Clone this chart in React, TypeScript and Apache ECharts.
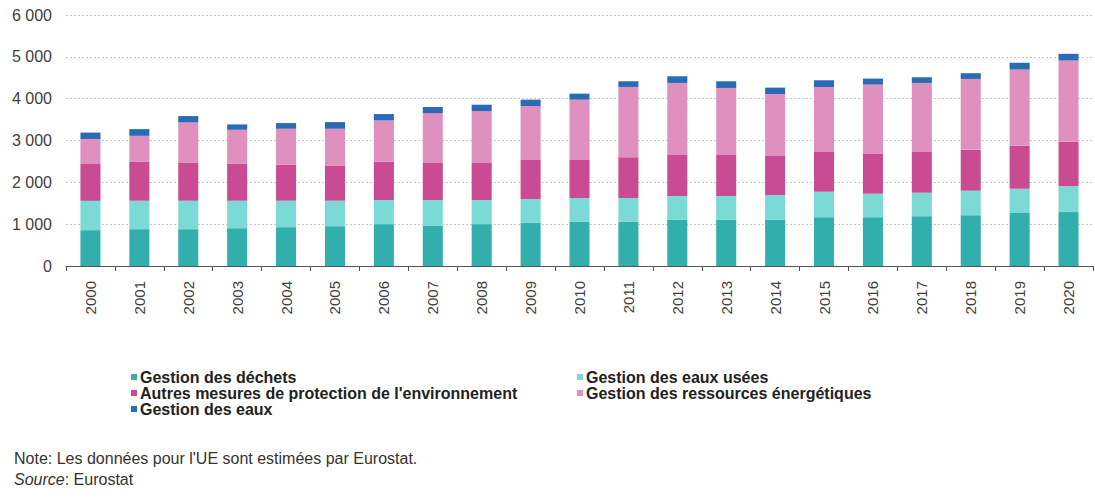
import React, { useEffect, useRef } from "react";
import * as echarts from "echarts";

const years = ["2000","2001","2002","2003","2004","2005","2006","2007","2008","2009","2010","2011","2012","2013","2014","2015","2016","2017","2018","2019","2020"];
const dechets = [857, 880, 880, 904, 928, 952, 1000, 968, 1000, 1032, 1056, 1056, 1104, 1104, 1104, 1168, 1168, 1192, 1216, 1264, 1288];
const eauxUsees = [700, 680, 680, 656, 632, 608, 576, 608, 576, 568, 568, 568, 568, 568, 592, 608, 560, 560, 584, 584, 616];
const autres = [896, 928, 904, 880, 864, 832, 912, 888, 888, 936, 912, 976, 984, 984, 936, 952, 952, 976, 976, 1024, 1064];
const ressources = [584, 624, 968, 816, 856, 888, 992, 1192, 1240, 1288, 1440, 1680, 1720, 1600, 1480, 1552, 1656, 1648, 1696, 1824, 1944];
const eaux = [152, 160, 152, 128, 136, 160, 152, 144, 152, 152, 144, 136, 160, 160, 152, 160, 144, 136, 136, 160, 160];
const yTicks = [0, 1000, 2000, 3000, 4000, 5000, 6000];

const names = [
  "Gestion des déchets",
  "Gestion des eaux usées",
  "Autres mesures de protection de l'environnement",
  "Gestion des ressources énergétiques",
  "Gestion des eaux",
];
const colors = ["#32AFAC", "#7BDAD6", "#C84B94", "#DF90BE", "#2A6BB5"];
const values = [dechets, eauxUsees, autres, ressources, eaux];

const FONT = "'Liberation Sans', Arial, sans-serif";

export default function App() {
  const ref = useRef<HTMLDivElement>(null);
  useEffect(() => {
    const chart = echarts.init(ref.current!, null, { renderer: "svg" });
    const legendText = { fontFamily: FONT, fontSize: 16, lineHeight: 16, fontWeight: "bold", color: "#222", padding: [0, 0, 0, -2] };
    chart.setOption({
      animation: false,
      backgroundColor: "#fff",
      grid: { left: 66, right: 2, top: 15, bottom: 235, containLabel: false },
      xAxis: {
        type: "category",
        data: years,
        axisLine: { lineStyle: { color: "#555", width: 1 } },
        axisTick: { show: true, length: 5, lineStyle: { color: "#555" } },
        axisLabel: { rotate: 90, margin: 15, fontFamily: FONT, fontSize: 15, color: "#404040" },
      },
      yAxis: {
        type: "value",
        min: 0,
        max: 6000,
        interval: 1000,
        axisLine: { show: false },
        axisTick: { show: false },
        axisLabel: {
          fontFamily: FONT,
          fontSize: 16,
          color: "#404040",
          margin: 14,
          formatter: (v: number) => (yTicks.includes(v) ? (v >= 1000 ? String(v).replace(/(\d)(\d{3})$/, "$1 $2") : String(v)) : ""),
        },
        splitLine: { lineStyle: { color: "#c8c8c8", type: [2, 2], width: 1 } },
      },
      legend: [
        {
          orient: "vertical",
          left: 131,
          top: 369,
          padding: 0,
          itemWidth: 6,
          itemHeight: 6,
          itemGap: 0,
          icon: "rect",
          data: [names[0], names[2], names[4]],
          textStyle: legendText,
        },
        {
          orient: "vertical",
          left: 577,
          top: 369,
          padding: 0,
          itemWidth: 6,
          itemHeight: 6,
          itemGap: 0,
          icon: "rect",
          data: [names[1], names[3]],
          textStyle: legendText,
        },
      ],
      graphic: [
        {
          type: "text",
          left: 14,
          top: 450,
          style: { text: "Note: Les données pour l'UE sont estimées par Eurostat.", font: `16px ${FONT}`, fill: "#333" },
        },
        {
          type: "text",
          left: 14,
          top: 471,
          style: {
            text: "{i|Source}: Eurostat",
            font: `16px ${FONT}`,
            fill: "#333",
            rich: { i: { fontStyle: "italic", fontFamily: FONT, fontSize: 16, fill: "#333" } },
          },
        },
      ],
      series: names.map((n, i) => ({
        name: n,
        type: "bar",
        stack: "total",
        data: values[i],
        barWidth: "41%",
        itemStyle: { color: colors[i] },
      })),
    });
    return () => chart.dispose();
  }, []);
  return <div ref={ref} style={{ position: "fixed", left: 0, top: 0, width: 1095, height: 501 }} />;
}
